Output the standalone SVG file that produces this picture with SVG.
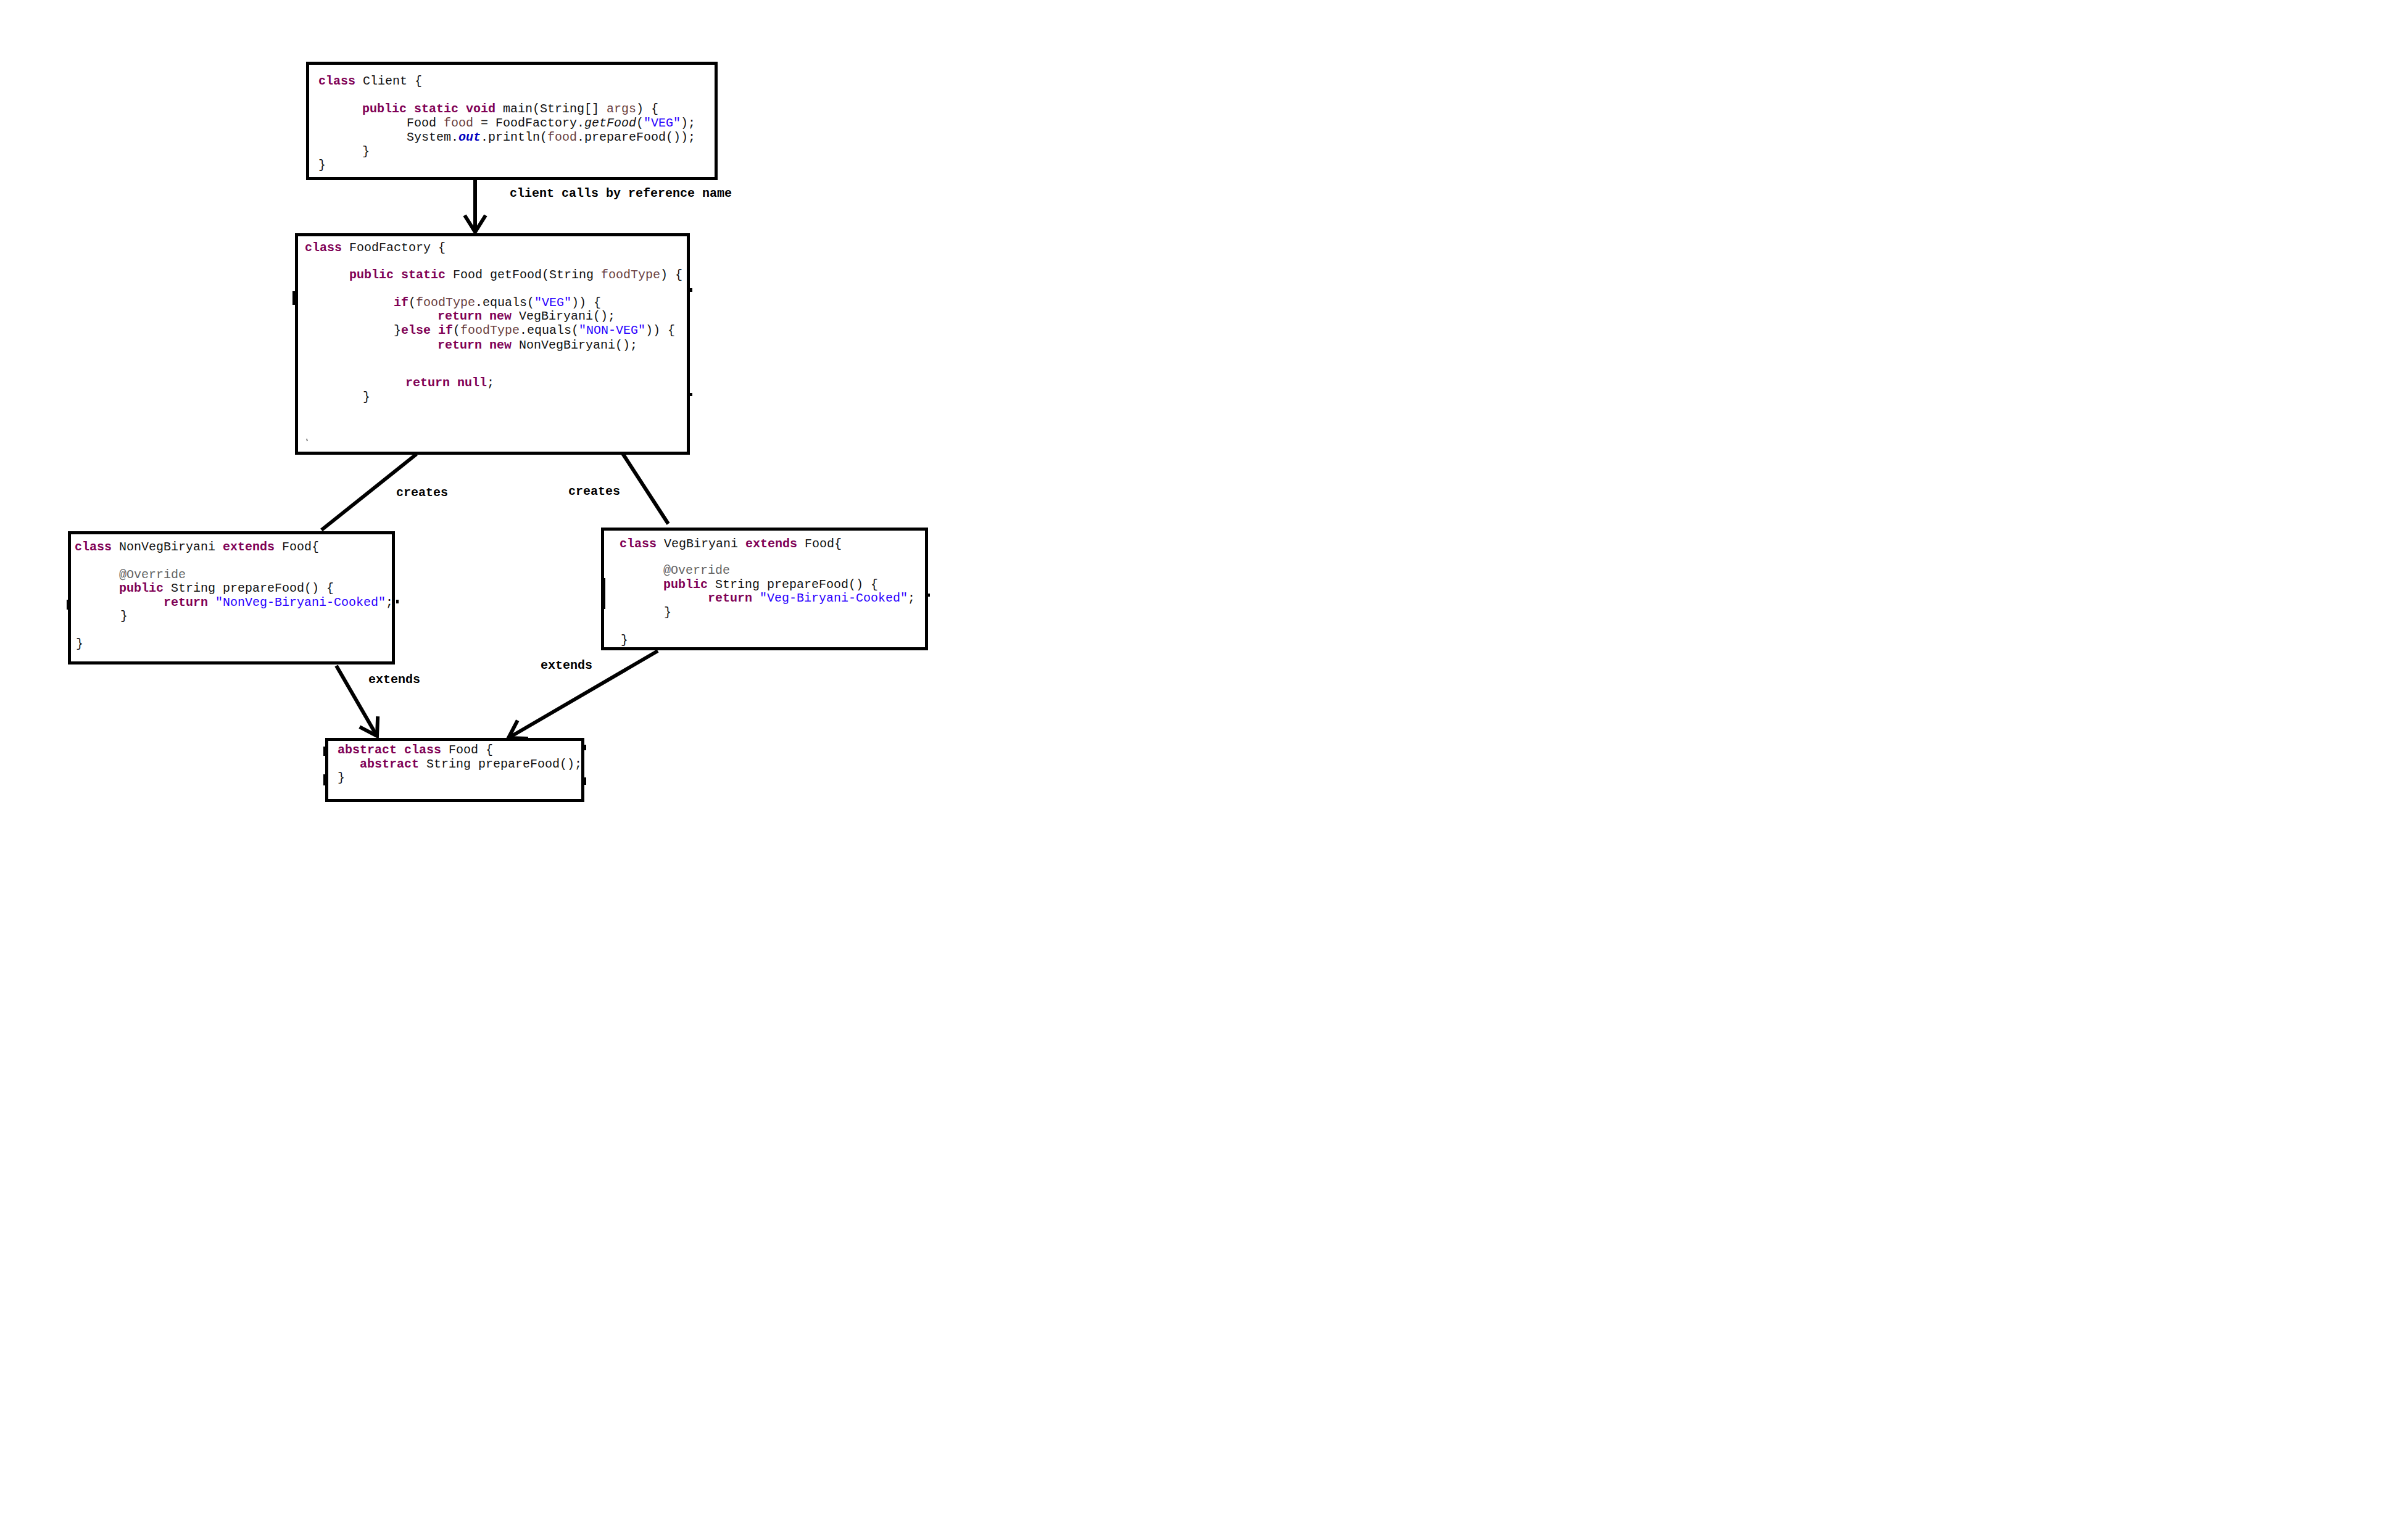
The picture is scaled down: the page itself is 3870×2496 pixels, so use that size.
<svg xmlns="http://www.w3.org/2000/svg" width="3870" height="2496" viewBox="0 0 3870 2496">
  <style>
    .box { fill: #ffffff; stroke: #000000; stroke-width: 5; }
    .tick { fill: #000000; }
    .code { font-family: "Liberation Mono", "Courier New", monospace; font-size: 20px; fill: #111111; white-space: pre; }
    .lbl { font-family: "Liberation Mono", "Courier New", monospace; font-size: 20px; font-weight: bold; fill: #000000; white-space: pre; }
    .k { font-weight: bold; fill: #7f0055; }
    .s { fill: #2a00ff; }
    .v { fill: #6a3e3e; }
    .a { fill: #646464; }
    .f { font-weight: bold; font-style: italic; fill: #0000c0; }
    .i { font-style: italic; }
    .conn { fill: none; stroke: #000000; stroke-width: 6; stroke-linecap: butt; }
  </style>
  <defs>
    <marker id="open-arrow" markerUnits="userSpaceOnUse" markerWidth="60" markerHeight="60" viewBox="-40 -30 60 60" refX="0" refY="0" orient="auto" overflow="visible">
      <path d="M -27 -17 L 0 0 L -27 17" fill="none" stroke="#000000" stroke-width="6" stroke-linejoin="miter"/>
    </marker>
  </defs>

  <rect x="0" y="0" width="3870" height="2496" fill="#ffffff"/>

  <!-- connectors -->
  <g id="connectors">
    <line class="conn" x1="770" y1="290" x2="770" y2="376" marker-end="url(#open-arrow)"/>
    <line class="conn" x1="675" y1="736" x2="521" y2="859"/>
    <line class="conn" x1="1009" y1="735" x2="1083" y2="849"/>
    <line class="conn" x1="545" y1="1079" x2="611" y2="1193" marker-end="url(#open-arrow)"/>
    <line class="conn" x1="1066" y1="1055" x2="824" y2="1196" marker-end="url(#open-arrow)"/>
    <text class="lbl" x="826" y="319">client calls by reference name</text>
    <text class="lbl" x="642" y="804">creates</text>
    <text class="lbl" x="921" y="802">creates</text>
    <text class="lbl" x="597" y="1107">extends</text>
    <text class="lbl" x="876" y="1084">extends</text>
  </g>

  <!-- Client -->
  <g id="client">
    <rect class="box" x="498.5" y="102.5" width="662" height="187"/>
    <text class="code" x="516" y="137"><tspan class="k">class</tspan> Client {</text>
    <text class="code" x="587" y="182"><tspan class="k">public static void</tspan> main(String[] <tspan class="v">args</tspan>) {</text>
    <text class="code" x="659" y="205">Food <tspan class="v">food</tspan> = FoodFactory.<tspan class="i">getFood</tspan>(<tspan class="s">"VEG"</tspan>);</text>
    <text class="code" x="659" y="228">System.<tspan class="f">out</tspan>.println(<tspan class="v">food</tspan>.prepareFood());</text>
    <text class="code" x="587" y="251">}</text>
    <text class="code" x="516" y="273">}</text>
  </g>

  <!-- FoodFactory -->
  <g id="food-factory">
    <rect class="box" x="480.5" y="380.5" width="635" height="354"/>
    <rect class="tick" x="474" y="472" width="6" height="22"/>
    <rect class="tick" x="1114" y="467" width="8" height="6"/>
    <rect class="tick" x="1114" y="637" width="8" height="5"/>
    <text class="code" x="494" y="407"><tspan class="k">class</tspan> FoodFactory {</text>
    <text class="code" x="566" y="451"><tspan class="k">public static</tspan> Food getFood(String <tspan class="v">foodType</tspan>) {</text>
    <text class="code" x="638" y="496"><tspan class="k">if</tspan>(<tspan class="v">foodType</tspan>.equals(<tspan class="s">"VEG"</tspan>)) {</text>
    <text class="code" x="709" y="518"><tspan class="k">return new</tspan> VegBiryani();</text>
    <text class="code" x="638" y="541">}<tspan class="k">else if</tspan>(<tspan class="v">foodType</tspan>.equals(<tspan class="s">"NON-VEG"</tspan>)) {</text>
    <text class="code" x="709" y="565"><tspan class="k">return new</tspan> NonVegBiryani();</text>
    <text class="code" x="657" y="626"><tspan class="k">return null</tspan>;</text>
    <text class="code" x="588" y="649">}</text>
    <line x1="497" y1="711" x2="498" y2="715" stroke="#555555" stroke-width="1.5"/>
  </g>

  <!-- NonVegBiryani -->
  <g id="non-veg-biryani">
    <rect class="box" x="112.5" y="863.5" width="525" height="211"/>
    <rect class="tick" x="108" y="972" width="6" height="16"/>
    <rect class="tick" x="642" y="972" width="4" height="6"/>
    <text class="code" x="121" y="892"><tspan class="k">class</tspan> NonVegBiryani <tspan class="k">extends</tspan> Food{</text>
    <text class="code" x="193" y="937"><tspan class="a">@Override</tspan></text>
    <text class="code" x="193" y="959"><tspan class="k">public</tspan> String prepareFood() {</text>
    <text class="code" x="265" y="982"><tspan class="k">return</tspan> <tspan class="s">"NonVeg-Biryani-Cooked"</tspan>;</text>
    <text class="code" x="195" y="1004">}</text>
    <text class="code" x="123" y="1049">}</text>
  </g>

  <!-- VegBiryani -->
  <g id="veg-biryani">
    <rect class="box" x="976.5" y="857.5" width="525" height="194"/>
    <rect class="tick" x="974" y="937" width="7" height="50"/>
    <rect class="tick" x="1502" y="962" width="5" height="5"/>
    <text class="code" x="1004" y="887"><tspan class="k">class</tspan> VegBiryani <tspan class="k">extends</tspan> Food{</text>
    <text class="code" x="1075" y="930"><tspan class="a">@Override</tspan></text>
    <text class="code" x="1075" y="953"><tspan class="k">public</tspan> String prepareFood() {</text>
    <text class="code" x="1147" y="975"><tspan class="k">return</tspan> <tspan class="s">"Veg-Biryani-Cooked"</tspan>;</text>
    <text class="code" x="1076" y="998">}</text>
    <text class="code" x="1006" y="1043">}</text>
  </g>

  <!-- Food -->
  <g id="food">
    <rect class="box" x="529.5" y="1198.5" width="415" height="99"/>
    <rect class="tick" x="524" y="1210" width="5" height="15"/>
    <rect class="tick" x="524" y="1255" width="5" height="18"/>
    <rect class="tick" x="945" y="1207" width="5" height="9"/>
    <rect class="tick" x="945" y="1260" width="5" height="12"/>
    <text class="code" x="547" y="1221"><tspan class="k">abstract class</tspan> Food {</text>
    <text class="code" x="583" y="1244"><tspan class="k">abstract</tspan> String prepareFood();</text>
    <text class="code" x="547" y="1266">}</text>
  </g>
</svg>
